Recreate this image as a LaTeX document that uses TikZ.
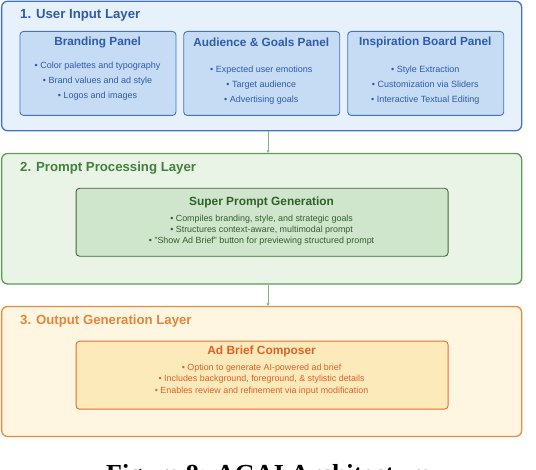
\documentclass[tikz,border=0pt]{standalone}
\usepackage{fontspec}
\setmainfont{Liberation Sans}
\newfontfamily\capfont{Liberation Serif}
\usetikzlibrary{arrows.meta}
\definecolor{bBorder}{HTML}{4472C4}
\definecolor{bFill}{HTML}{E7F1FB}
\definecolor{bPanel}{HTML}{C6DCF4}
\definecolor{bText}{HTML}{2F5BAA}
\definecolor{gBorder}{HTML}{5E9A56}
\definecolor{gFill}{HTML}{E9F4E7}
\definecolor{gInner}{HTML}{D0E6CC}
\definecolor{gInnerBorder}{HTML}{3D6A35}
\definecolor{gTitle}{HTML}{447F3E}
\definecolor{gText}{HTML}{2F5F2A}
\definecolor{oBorder}{HTML}{EC8A3E}
\definecolor{oFill}{HTML}{FEF6E0}
\definecolor{oInner}{HTML}{FDEABB}
\definecolor{oInnerBorder}{HTML}{E36D30}
\definecolor{oTitle}{HTML}{E8843A}
\definecolor{oText}{HTML}{DC6229}
\definecolor{connCol}{HTML}{86B27E}
\tikzset{
  layerbox/.style={draw, line width=1.3pt, rounded corners=6pt, anchor=north west, inner sep=0pt, minimum width=520pt},
  panelbox/.style={draw=bBorder, fill=bPanel, line width=0.9pt, rounded corners=3.5pt, anchor=north west, inner sep=0pt, minimum width=156pt, minimum height=84pt},
  innerbox/.style={line width=0.9pt, rounded corners=3.5pt, anchor=north west, inner sep=0pt, minimum width=372pt, minimum height=68pt},
  layertitle/.style={anchor=west, inner sep=0pt, font=\fontsize{13.2}{15}\selectfont\bfseries},
  paneltitle/.style={inner sep=0pt, font=\fontsize{11.8}{13}\selectfont\bfseries, text=bText},
  panelitems/.style={inner sep=0pt, align=center, font=\fontsize{9}{15}\selectfont, text=bText},
  innertitle/.style={inner sep=0pt, font=\fontsize{11.9}{13}\selectfont\bfseries},
  inneritems/.style={inner sep=0pt, align=center, font=\fontsize{8.9}{11.3}\selectfont},
  conn/.style={draw=connCol, line width=0.9pt, -{Stealth[length=3pt,width=3pt]}}
}
\begin{document}
\begin{tikzpicture}[x=1pt,y=-1pt]
\useasboundingbox (0,0) rectangle (536,470);
\clip (0,0) rectangle (536,470);
\fill[white] (0,0) rectangle (536,470);

% Layer 1
\node[layerbox, draw=bBorder, fill=bFill, minimum height=129.5pt] (L1) at (1,0.6) {};
\node[layertitle, text=bText] (T1) at (20,15.5) {1. User Input Layer};
\node[panelbox] (P1) at (19.5,31) {};
\node[panelbox] (P2) at (183.3,31) {};
\node[panelbox] (P3) at (347.3,31) {};
\node[paneltitle] (P1t) at (97.6,42.5) {Branding Panel};
\node[paneltitle] (P2t) at (261.3,42.5) {Audience \& Goals Panel};
\node[paneltitle] (P3t) at (425.3,42.5) {Inspiration Board Panel};
\node[panelitems] (P1i) at (97.6,81) {\textbullet\ Color palettes and typography\\ \textbullet\ Brand values and ad style\\ \textbullet\ Logos and images};
\node[panelitems] (P2i) at (261.3,85) {\textbullet\ Expected user emotions\\ \textbullet\ Target audience\\ \textbullet\ Advertising goals};
\node[panelitems] (P3i) at (425.3,85) {\textbullet\ Style Extraction\\ \textbullet\ Customization via Sliders\\ \textbullet\ Interactive Textual Editing};

% Layer 2
\node[layerbox, draw=gBorder, fill=gFill, minimum height=130.5pt] (L2) at (1,152.8) {};
\node[layertitle, text=gTitle] (T2) at (20,167.8) {2. Prompt Processing Layer};
\node[innerbox, draw=gInnerBorder, fill=gInner] (S) at (75.6,187.8) {};
\node[innertitle, text=gText] (St) at (261.6,202.5) {Super Prompt Generation};
\node[inneritems, text=gText] (Si) at (261.6,230.3) {\textbullet\ Compiles branding, style, and strategic goals\\ \textbullet\ Structures context-aware, multimodal prompt\\ \textbullet\ "Show Ad Brief" button for previewing structured prompt};

% Layer 3
\node[layerbox, draw=oBorder, fill=oFill, minimum height=130pt] (L3) at (1,305.8) {};
\node[layertitle, text=oTitle] (T3) at (20,320.8) {3. Output Generation Layer};
\node[innerbox, draw=oInnerBorder, fill=oInner] (A) at (75.6,340.7) {};
\node[innertitle, text=oText] (At) at (261.6,351.8) {Ad Brief Composer};
\node[inneritems, text=oText] (Ai) at (261.6,379.5) {\textbullet\ Option to generate AI-powered ad brief\\ \textbullet\ Includes background, foreground, \& stylistic details\\ \textbullet\ Enables review and refinement via input modification};

% connectors
\coordinate (cx) at (268,0);
\draw[conn] (L1.south -| cx) -- (L2.north -| cx);
\draw[conn] (L2.south -| cx) -- (L3.north -| cx);

% caption (cut off at the bottom edge, as in the reference)
\node[anchor=north west, inner sep=0pt, font=\capfont\bfseries\fontsize{26}{30}\selectfont] (cap) at (106,464) {Figure 8: AGAI Architecture};
\end{tikzpicture}
\end{document}
